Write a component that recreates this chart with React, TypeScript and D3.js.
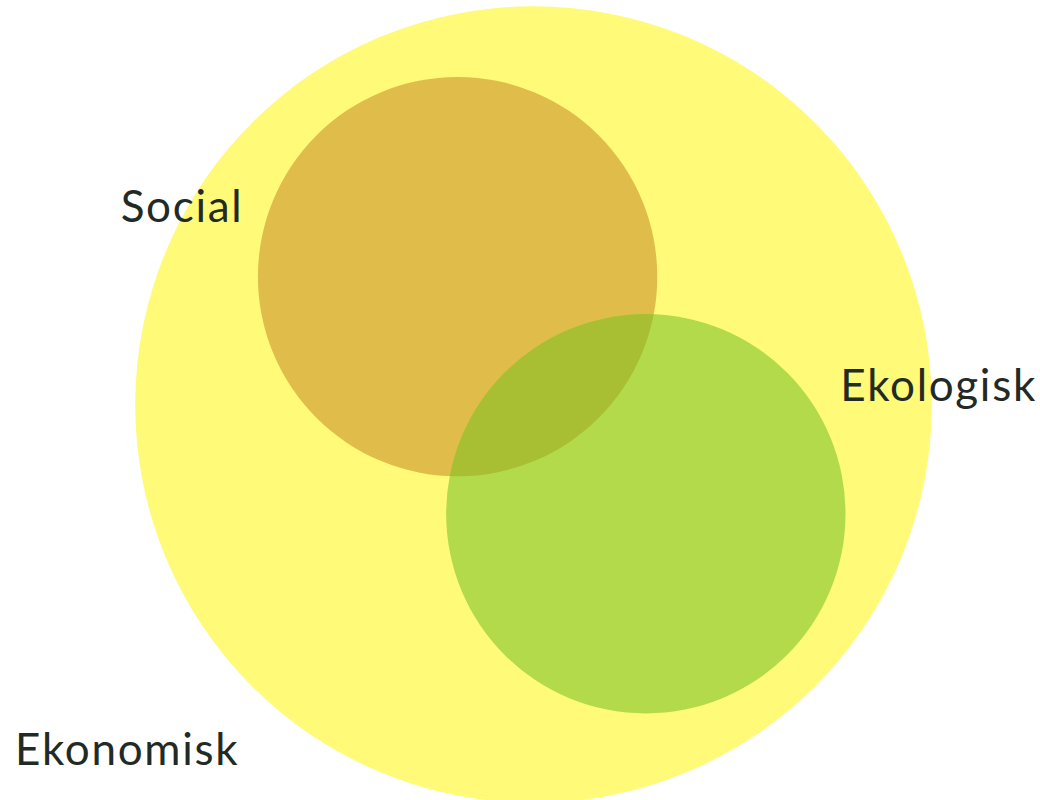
import React from 'react';
import * as d3 from 'd3';

// circles in a 0..100 unit space
const circleNames = ['Ekonomisk', 'Social', 'Ekologisk'];
const circleX = [51.3, 44.0, 62.1];
const circleY = [38.9, 26.6, 49.4];
const circleR = [38.3, 19.2, 19.2];
const circleColors = ['#FFFA78', '#E0BC4A', '#B2DA4A'];
const overlapColor = '#A8BE33';

const labelNames = ['Ekonomisk', 'Social', 'Ekologisk'];
const labelX = [1.45, 11.6, 80.8];
const labelY = [73.6, 21.3, 38.55];

export default function App() {
  const width = 1040;
  const height = 800;
  const x = d3.scaleLinear().domain([0, 100]).range([0, 1040]);
  const y = d3.scaleLinear().domain([0, 100]).range([0, 1040]);
  const r = d3.scaleLinear().domain([0, 100]).range([0, 1040]);

  const circles = circleNames.map((name, i) => ({
    name,
    cx: x(circleX[i]),
    cy: y(circleY[i]),
    r: r(circleR[i]),
    color: circleColors[i],
  }));
  const social = circles[1];
  const eko = circles[2];

  return (
    <svg
      width={width}
      height={height}
      style={{ position: 'absolute', left: 0, top: 0, background: '#fff' }}
    >
      <defs>
        <clipPath id="socialClip">
          <circle cx={social.cx} cy={social.cy} r={social.r} />
        </clipPath>
      </defs>
      {circles.map((c) => (
        <circle key={c.name} cx={c.cx} cy={c.cy} r={c.r} fill={c.color} />
      ))}
      <circle cx={eko.cx} cy={eko.cy} r={eko.r} fill={overlapColor} clipPath="url(#socialClip)" />
      {labelNames.map((l, i) => (
        <text
          key={l}
          x={x(labelX[i])}
          y={y(labelY[i])}
          fontFamily="Lato, 'Open Sans', sans-serif"
          fontSize={44}
          letterSpacing={1.7}
          fill="#222A25"
        >
          {l}
        </text>
      ))}
    </svg>
  );
}
